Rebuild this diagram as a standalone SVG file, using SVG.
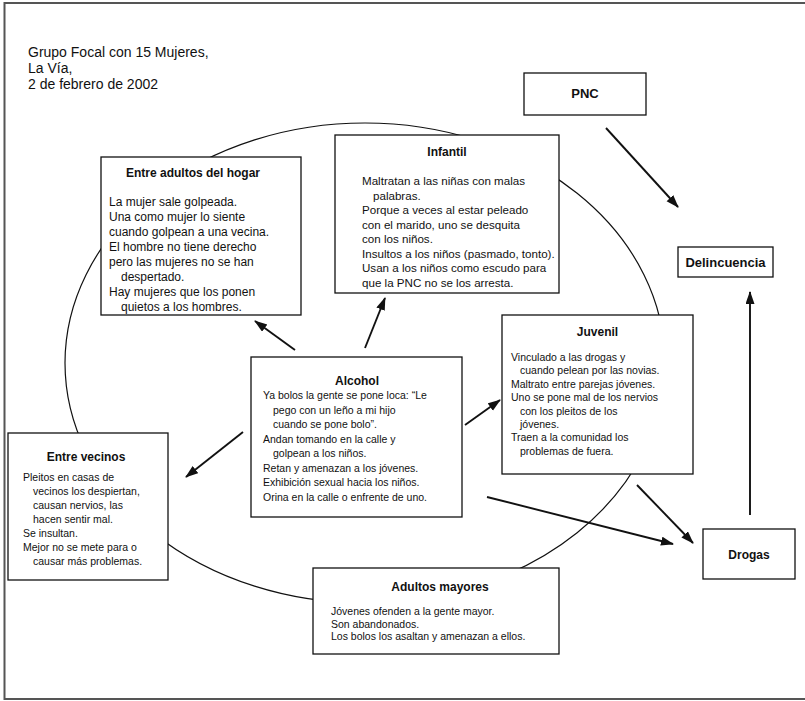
<svg xmlns="http://www.w3.org/2000/svg" width="805" height="701" viewBox="0 0 805 701">
<style>
  text { font-family: "Liberation Sans", Arial, sans-serif; fill: #111; }
  .hdr { font-size: 14px; }
  .t { font-size: 12px; font-weight: bold; text-anchor: middle; }
  .tb { font-size: 13px; font-weight: bold; text-anchor: middle; }
  .b12 { font-size: 12px; }
  .b11 { font-size: 11.6px; }
  .b10 { font-size: 10.5px; }
  .box { fill: #fff; stroke: #111; stroke-width: 1.3; }
  .arr { fill: none; stroke: #111; stroke-width: 1.9; marker-end: url(#ah); }
  .ring { fill: none; stroke: #111; stroke-width: 1.2; }
</style>
<defs>
  <marker id="ah" markerUnits="userSpaceOnUse" markerWidth="14" markerHeight="10" refX="12" refY="4.5" orient="auto">
    <path d="M0,0 L13,4.5 L0,9 z" fill="#111"/>
  </marker>
</defs>
<rect x="0" y="0" width="805" height="701" fill="#fff"/>
<path d="M808,3 H4.5 V699 H808" fill="none" stroke="#555" stroke-width="2"/>

<g id="header">
  <text class="hdr" x="28" y="57">Grupo Focal con 15 Mujeres,</text>
  <text class="hdr" x="28" y="73">La Vía,</text>
  <text class="hdr" x="28" y="89">2 de febrero de 2002</text>
</g>

<g id="cycle">
  <ellipse class="ring" cx="365" cy="363" rx="300" ry="240"/>
</g>

<g id="connectors">
  <line class="arr" x1="606" y1="128" x2="678" y2="207"/>
  <line class="arr" x1="750" y1="515" x2="750" y2="292"/>
  <line class="arr" x1="637" y1="485" x2="693" y2="543"/>
  <line class="arr" x1="487" y1="497" x2="673" y2="544"/>
  <line class="arr" x1="465" y1="425" x2="500" y2="400"/>
  <line class="arr" x1="365" y1="348" x2="385" y2="298"/>
  <line class="arr" x1="295" y1="350" x2="255" y2="321"/>
  <line class="arr" x1="243" y1="432" x2="186" y2="477"/>
</g>

<g id="pnc">
  <rect class="box" x="524" y="73" width="122" height="42"/>
  <text class="tb" x="585" y="98">PNC</text>
</g>

<g id="delincuencia">
  <rect class="box" x="678" y="247" width="95" height="30"/>
  <text class="tb" x="725.5" y="266.5">Delincuencia</text>
</g>

<g id="drogas">
  <rect class="box" x="703" y="529" width="92" height="50"/>
  <text class="t" x="749" y="559">Drogas</text>
</g>

<g id="entre-adultos">
  <rect class="box" x="101" y="157" width="200" height="158"/>
  <text class="t" x="193" y="177">Entre adultos del hogar</text>
  <text class="b12" x="109" y="206">La mujer sale golpeada.</text>
  <text class="b12" x="109" y="221">Una como mujer lo siente</text>
  <text class="b12" x="109" y="236">cuando golpean a una vecina.</text>
  <text class="b12" x="109" y="251">El hombre no tiene derecho</text>
  <text class="b12" x="109" y="266">pero las mujeres no se han</text>
  <text class="b12" x="121" y="281">despertado.</text>
  <text class="b12" x="109" y="296">Hay mujeres que los ponen</text>
  <text class="b12" x="121" y="311">quietos a los hombres.</text>
</g>

<g id="infantil">
  <rect class="box" x="335" y="135" width="224" height="158"/>
  <text class="t" x="447" y="156">Infantil</text>
  <text class="b11" x="362" y="185">Maltratan a las niñas con malas</text>
  <text class="b11" x="373" y="199.5">palabras.</text>
  <text class="b11" x="362" y="214">Porque a veces al estar peleado</text>
  <text class="b11" x="362" y="228.5">con el marido, uno se desquita</text>
  <text class="b11" x="362" y="243">con los niños.</text>
  <text class="b11" x="362" y="257.5">Insultos a los niños (pasmado, tonto).</text>
  <text class="b11" x="362" y="272">Usan a los niños como escudo para</text>
  <text class="b11" x="362" y="286.5">que la PNC no se los arresta.</text>
</g>

<g id="alcohol">
  <rect class="box" x="251" y="357" width="211" height="160"/>
  <text class="t" x="357" y="385">Alcohol</text>
  <text class="b10" x="263" y="399">Ya bolos la gente se pone loca: “Le</text>
  <text class="b10" x="273" y="413.5">pego con un leño a mi hijo</text>
  <text class="b10" x="273" y="428">cuando se pone bolo”.</text>
  <text class="b10" x="263" y="442.5">Andan tomando en la calle y</text>
  <text class="b10" x="273" y="457">golpean a los niños.</text>
  <text class="b10" x="263" y="471.5">Retan y amenazan a los jóvenes.</text>
  <text class="b10" x="263" y="486">Exhibición sexual hacia los niños.</text>
  <text class="b10" x="263" y="500.5">Orina en la calle o enfrente de uno.</text>
</g>

<g id="juvenil">
  <rect class="box" x="502" y="315" width="191" height="159"/>
  <text class="t" x="597.5" y="336">Juvenil</text>
  <text class="b10" x="511" y="361">Vinculado a las drogas y</text>
  <text class="b10" x="520" y="374.4">cuando pelean por las novias.</text>
  <text class="b10" x="511" y="387.8">Maltrato entre parejas jóvenes.</text>
  <text class="b10" x="511" y="401.2">Uno se pone mal de los nervios</text>
  <text class="b10" x="520" y="414.6">con los pleitos de los</text>
  <text class="b10" x="520" y="428">jóvenes.</text>
  <text class="b10" x="511" y="441.4">Traen a la comunidad los</text>
  <text class="b10" x="520" y="454.8">problemas de fuera.</text>
</g>

<g id="entre-vecinos">
  <rect class="box" x="8" y="433" width="160" height="147"/>
  <text class="t" x="86" y="461">Entre vecinos</text>
  <text class="b10" x="23" y="481">Pleitos en casas de</text>
  <text class="b10" x="33" y="495">vecinos los despiertan,</text>
  <text class="b10" x="33" y="509">causan nervios, las</text>
  <text class="b10" x="33" y="523">hacen sentir mal.</text>
  <text class="b10" x="23" y="537">Se insultan.</text>
  <text class="b10" x="23" y="551">Mejor no se mete para o</text>
  <text class="b10" x="33" y="565">causar más problemas.</text>
</g>

<g id="adultos-mayores">
  <rect class="box" x="313" y="568" width="246" height="86"/>
  <text class="t" x="440" y="591">Adultos mayores</text>
  <text class="b10" x="331" y="615">Jóvenes ofenden a la gente mayor.</text>
  <text class="b10" x="331" y="627.5">Son abandonados.</text>
  <text class="b10" x="331" y="640">Los bolos los asaltan y amenazan a ellos.</text>
</g>
</svg>
